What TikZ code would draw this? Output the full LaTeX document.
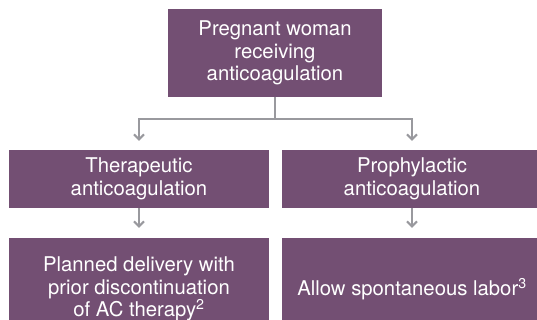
\documentclass[tikz,border=0pt]{standalone}
\usepackage{fontspec}
\setmainfont{TeX Gyre Heros}
\usetikzlibrary{arrows.meta}
\newlength{\du}
\setlength{\du}{1pt}

\begin{document}
\begin{tikzpicture}[yscale=-1,
  diabox/.style={fill=diaboxcolor, text=white, inner sep=0pt, align=center,
    minimum width=260\du, font=\fontsize{20.3}{22.5}\selectfont},
  dialine/.style={draw=dialinecolor, line width=2pt},
  diaarrow/.style={dialine, -{Straight Barb[length=5pt,width=10pt]}}]
\definecolor{diaboxcolor}{rgb}{0.450000, 0.310000, 0.450000}
\definecolor{dialinecolor}{rgb}{0.600000, 0.600000, 0.620000}
\useasboundingbox (0\du,0\du) rectangle (537\du,320\du);
\clip (0\du,0\du) rectangle (537\du,320\du);
% boxes
\node[diabox, minimum width=214\du, minimum height=88\du] (woman) at (275.000000\du,53.000000\du){Pregnant woman\\receiving\\anticoagulation};
\node[diabox, minimum height=58\du] (ther) at (139.000000\du,179.000000\du){Therapeutic\\anticoagulation};
\node[diabox, minimum height=58\du] (proph) at (412.000000\du,179.000000\du){Prophylactic\\anticoagulation};
\node[diabox, minimum height=102\du] (planned) at (139.000000\du,289.000000\du){Planned delivery with\\prior discontinuation\\of AC therapy\textsuperscript{2}};
\node[diabox, minimum height=102\du] (allow) at (412.000000\du,289.000000\du){Allow spontaneous labor\textsuperscript{3}};
% connectors
\coordinate (split) at (275.000000\du,119.000000\du);
\draw[dialine] (woman.south) -- (split);
\draw[diaarrow, shorten >=9pt] (split) -| (ther.north);
\draw[diaarrow, shorten >=9pt] (split) -| (proph.north);
\draw[diaarrow, shorten >=10pt] (ther.south) -- (planned.north);
\draw[diaarrow, shorten >=10pt] (proph.south) -- (allow.north);
\end{tikzpicture}
\end{document}
